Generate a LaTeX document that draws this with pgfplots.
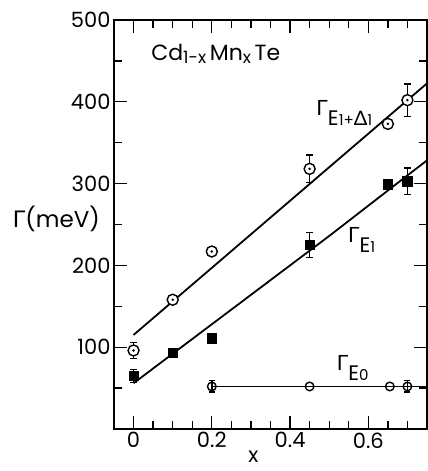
\documentclass[border=0pt]{standalone}
\usepackage{pgfplots}
\pgfplotsset{compat=1.18}
\usepackage{fontspec}
\setmainfont{Poppins}
\newfontfamily\grk{Lato}
\newcommand{\fsz}[1]{\fontsize{#1}{#1}\selectfont}

\pgfdeclareplotmark{odot}{%
  \pgfpathcircle{\pgfpointorigin}{\pgfplotmarksize}\pgfusepathqfillstroke
  \pgfscope
  \pgfsetfillcolor{black}%
  \pgfpathcircle{\pgfpointorigin}{1.4pt}\pgfusepathqfill
  \endpgfscope}

\pgfplotstableread{
x y ey
0 96 10
0.1 158 0
0.2 217 0
0.45 318 17
0.65 373 0
0.70 402 20
}\EoneD

\pgfplotstableread{
x y ey
0 65 8
0.1 93 0
0.2 111 0
0.45 225 15
0.65 299 0
0.70 303 16
}\Eone

\pgfplotstableread{
x y ey
0.2 52 7
0.45 52 0
0.655 52 0
0.70 52 7
}\Ezero

\begin{document}
\begin{tikzpicture}
\begin{axis}[
  width=313pt, height=409pt, scale only axis,
  xmin=-0.05, xmax=0.75, ymin=0, ymax=500,
  xtick={0,0.2,0.4,0.6}, xticklabels={0,0.2,0.4,0.6},
  minor xtick={0.05,0.1,0.15,0.25,0.3,0.35,0.45,0.5,0.55,0.65,0.7},
  ytick={100,200,300,400,500}, yticklabels={100,200,300,400,500},
  minor ytick={50,150,250,350,450},
  tick align=inside,
  major tick length=13pt, minor tick length=8pt,
  every tick/.style={line width=1.3pt, black},
  axis line style={line width=1.8pt},
  tick label style={font=\fsz{21}},
  clip mode=individual,
  error bars/error mark=-,
]
% lines
\addplot[line width=1.8pt, no marks] coordinates {(0,115) (0.76,426.6)};
\addplot[line width=1.8pt, no marks, smooth] coordinates {(0,56) (0.1,92) (0.2,128) (0.3,164) (0.4,200) (0.5,236) (0.6,273) (0.7,310) (0.76,332)};
\addplot[line width=1.8pt, no marks] coordinates {(0.2,52) (0.76,52)};
% markers
\addplot[only marks, mark=odot, mark size=5.5pt, mark options={fill=white, line width=1.4pt},
  error bars/.cd, y dir=both, y explicit,
  error bar style={line width=1.4pt},
  error mark options={rotate=90, line width=1.4pt, mark size=3.5pt}]
  table[x=x, y=y, y error=ey] {\EoneD};
\addplot[only marks, mark=square*, mark size=4.8pt, mark options={line width=0.5pt},
  error bars/.cd, y dir=both, y explicit,
  error bar style={line width=1.4pt},
  error mark options={rotate=90, line width=1.4pt, mark size=3.5pt}]
  table[x=x, y=y, y error=ey] {\Eone};
\addplot[only marks, mark=o, mark size=4.3pt, mark options={fill=white, line width=1.4pt},
  error bars/.cd, y dir=both, y explicit,
  error bar style={line width=1.4pt},
  error mark options={rotate=90, line width=1.4pt, mark size=3pt}]
  table[x=x, y=y, y error=ey] {\Ezero};
\addplot[only marks, mark=square*, mark size=4pt] coordinates {(0.752,52)};
% labels
\node[anchor=base west, inner sep=0] at (axis cs:0.045,450)
  {\fsz{22}Cd\raisebox{-2.5pt}{\fsz{17}1-x}\,Mn\raisebox{-2.5pt}{\fsz{17}x}\,Te};
\node[anchor=base west, inner sep=0] at (axis cs:0.467,383)
  {\fsz{21}{\grk Γ}\raisebox{-10pt}{\fsz{21}E\fsz{15}1\fsz{15}+{\fsz{20}\grk Δ}\fsz{15}1}};
\node[anchor=base west, inner sep=0] at (axis cs:0.548,228)
  {\fsz{21}{\grk Γ}\raisebox{-10pt}{\fsz{21}E\fsz{15}1}};
\node[anchor=base west, inner sep=0] at (axis cs:0.519,71)
  {\fsz{21}{\grk Γ}\raisebox{-10pt}{\fsz{21}E\fsz{15}0}};
\node[anchor=east, inner sep=0] at (axis cs:-0.05,257) [xshift=-14pt]
  {\fsz{23}{\grk Γ}(meV)};
\node[anchor=base, inner sep=0] at (axis cs:0.306,0) [yshift=-33pt]
  {\fsz{21}x};
\end{axis}
\path[use as bounding box] ([shift={(-114pt,-42pt)}]current axis.south west) rectangle ([shift={(1pt,20pt)}]current axis.north east);
\end{tikzpicture}
\end{document}
